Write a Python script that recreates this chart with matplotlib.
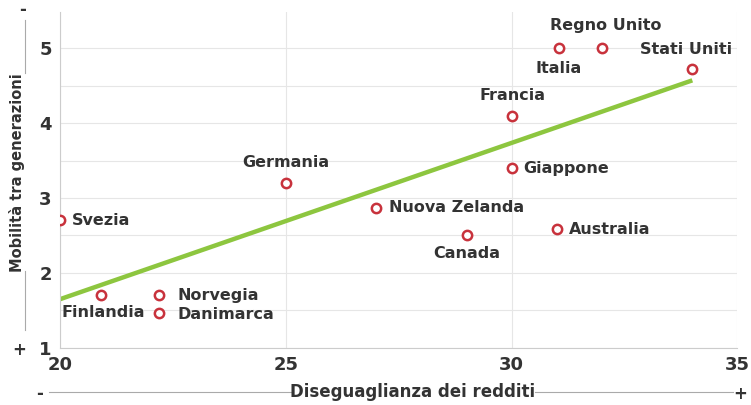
import matplotlib.pyplot as plt

# countries: income inequality (x) vs generational mobility (y)
countries = ['Svezia', 'Finlandia', 'Norvegia', 'Danimarca', 'Germania', 'Nuova Zelanda',
             'Canada', 'Francia', 'Giappone', 'Australia', 'Italia', 'Regno Unito', 'Stati Uniti']
inequality = [20.0, 20.9, 22.2, 22.2, 25.0, 27.0, 29.0, 30.0, 30.0, 31.0, 31.05, 32.0, 34.0]
mobility = [2.7, 1.7, 1.7, 1.47, 3.2, 2.87, 2.5, 4.1, 3.4, 2.58, 5.0, 5.0, 4.72]

trend_x = [20, 34]
trend_y = [1.65, 4.57]

xticks = [20, 25, 30, 35]
yticks = [1, 2, 3, 4, 5]

# label placement (pixel offsets, alignment)
label_pos = {
    'Svezia': (12, 0, 'left', 'center'),
    'Finlandia': (3, -17, 'center', 'center'),
    'Norvegia': (18, 0, 'left', 'center'),
    'Danimarca': (18, -2, 'left', 'center'),
    'Germania': (0, 21, 'center', 'center'),
    'Nuova Zelanda': (13, 0, 'left', 'center'),
    'Canada': (0, -18, 'center', 'center'),
    'Francia': (1, 20, 'center', 'center'),
    'Giappone': (12, 0, 'left', 'center'),
    'Australia': (12, 0, 'left', 'center'),
    'Italia': (0, -20, 'center', 'center'),
    'Regno Unito': (4, 23, 'center', 'center'),
    'Stati Uniti': (-6, 20, 'center', 'center'),
}

txt = '#333333'
font = dict(family='DejaVu Sans', weight='bold', color=txt)

fig = plt.figure(figsize=(7.51, 4.05), dpi=100)
ax = fig.add_axes([0.08, 0.141, 0.902, 0.829])

ax.set_xlim(20, 35)
ax.set_ylim(1, 5.48)
ax.set_yticks([1, 1.5, 2, 2.5, 3, 3.5, 4, 4.5, 5])
ax.set_yticklabels(['1', '', '2', '', '3', '', '4', '', '5'], fontsize=13, **font)
ax.set_xticks(xticks)
ax.set_xticklabels([str(t) for t in xticks], fontsize=13, **font)
ax.tick_params(length=0, pad=6)
ax.grid(True, color='#e6e6e6', linewidth=0.8)
for s in ['top', 'right']:
    ax.spines[s].set_visible(False)
for s in ['left', 'bottom']:
    ax.spines[s].set_color('#cccccc')
    ax.spines[s].set_linewidth(0.8)

ax.plot(trend_x, trend_y, color='#8dc63f', linewidth=3.2, zorder=2, solid_capstyle='butt')
ax.scatter(inequality, mobility, s=45, facecolor='white', edgecolor='#c8323c',
           linewidth=1.8, zorder=3)

for name, x, y in zip(countries, inequality, mobility):
    dx, dy, ha, va = label_pos[name]
    ax.annotate(name, (x, y), xytext=(dx, dy), textcoords='offset pixels',
                ha=ha, va=va, fontsize=11.5, zorder=4, **font)

# axis titles with direction markers
fig.text(0.55, 0.032, 'Diseguaglianza dei redditi', ha='center', va='center', fontsize=12, **font)
fig.text(0.053, 0.028, '-', ha='center', va='center', fontsize=12, **font)
fig.text(0.986, 0.028, '+', ha='center', va='center', fontsize=12, **font)
fig.add_artist(plt.Line2D([0.065, 0.39], [0.032, 0.032], color='#aaaaaa', linewidth=0.8))
fig.add_artist(plt.Line2D([0.712, 0.976], [0.032, 0.032], color='#aaaaaa', linewidth=0.8))

fig.text(0.022, 0.575, 'Mobilità tra generazioni', ha='center', va='center', rotation=90,
         fontsize=10.5, **font)
fig.text(0.03, 0.975, '-', ha='center', va='center', fontsize=12, **font)
fig.text(0.025, 0.135, '+', ha='center', va='center', fontsize=12, **font)
fig.add_artist(plt.Line2D([0.033, 0.033], [0.185, 0.33], color='#aaaaaa', linewidth=0.8))
fig.add_artist(plt.Line2D([0.033, 0.033], [0.82, 0.95], color='#aaaaaa', linewidth=0.8))

fig.savefig('out.png', dpi=100)
